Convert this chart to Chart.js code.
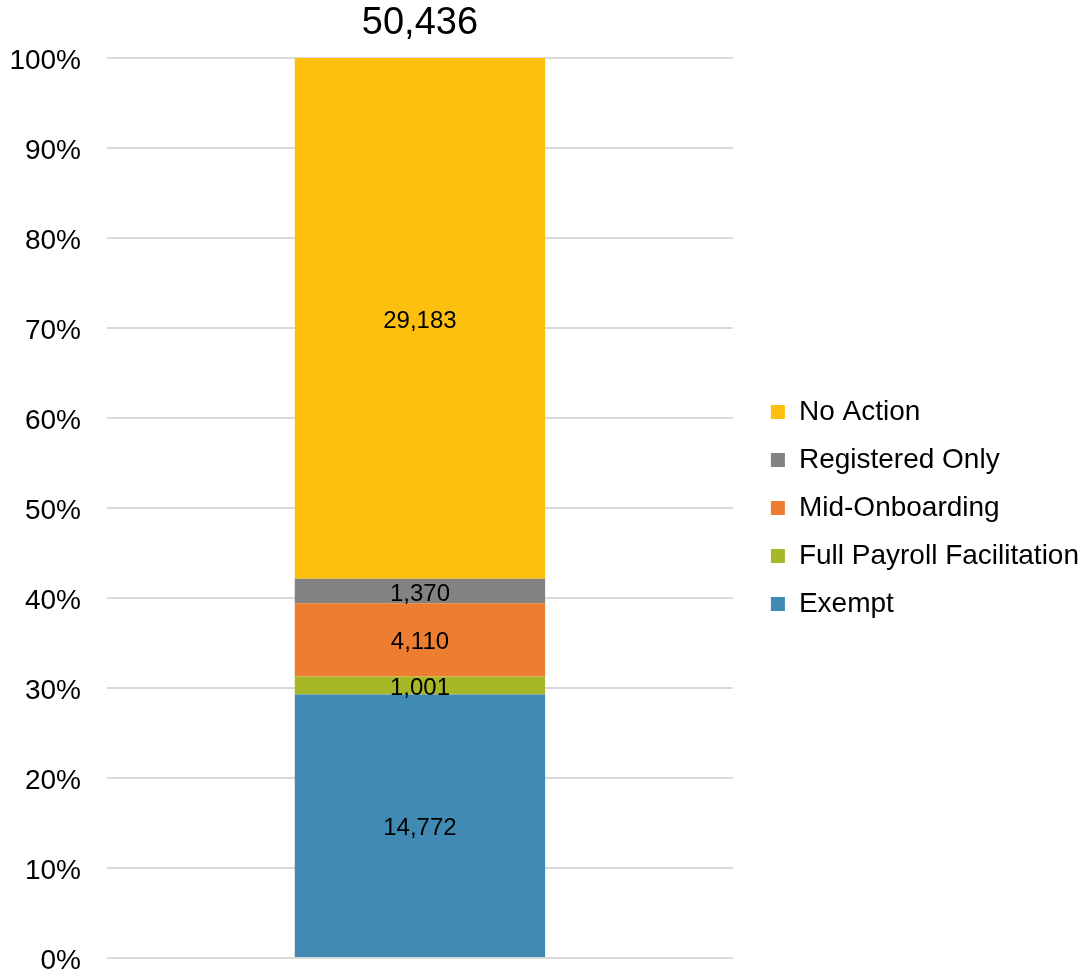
<!DOCTYPE html>
<html>
<head>
<meta charset="utf-8">
<title>50,436</title>
<script src="https://cdn.jsdelivr.net/npm/chart.js@4.4.1/dist/chart.umd.min.js"></script>
<style>
  html, body { margin: 0; padding: 0; background: #ffffff; }
  #contenedor { width: 1089px; height: 973px; }
</style>
</head>
<body>
<div id="contenedor"><canvas id="graficoEstado"></canvas></div>
<script>
// Categorías, de abajo hacia arriba en la barra
const categorias = ['Exempt', 'Full Payroll Facilitation', 'Mid-Onboarding', 'Registered Only', 'No Action'];
// Cantidad por categoría
const cantidades = [14772, 1001, 4110, 1370, 29183];
const colores = ['#418AB3', '#A6B727', '#ED7D31', '#838383', '#FEC00F'];
const etiquetaBarra = [''];

const total = cantidades.reduce((a, b) => a + b, 0);

// Plugin para escribir el número dentro de cada segmento
const etiquetasSegmentos = {
    id: 'etiquetasSegmentos',
    afterDatasetsDraw(chart) {
        const ctx = chart.ctx;
        ctx.save();
        ctx.font = '24px "Liberation Sans", Arial, sans-serif';
        ctx.fillStyle = '#000000';
        ctx.textAlign = 'center';
        ctx.textBaseline = 'middle';
        chart.data.datasets.forEach((ds, i) => {
            const barra = chart.getDatasetMeta(i).data[0];
            const y = (barra.y + barra.base) / 2 + 3;
            ctx.fillText(cantidades[i].toLocaleString('en-US'), barra.x, y);
        });
        ctx.restore();
    }
};

function crearGrafico() {
    Chart.defaults.font.family = '"Liberation Sans", Arial, sans-serif';
    Chart.defaults.color = '#000000';

    const ctx = document.getElementById('graficoEstado').getContext('2d');
    new Chart(ctx, {
        type: 'bar',
        data: {
            labels: etiquetaBarra,
            datasets: categorias.map((nombre, i) => ({
                label: nombre,
                data: [cantidades[i] / total * 100],
                backgroundColor: colores[i],
                borderWidth: 0,
                barPercentage: 0.4,
                categoryPercentage: 1
            }))
        },
        options: {
            responsive: true,
            maintainAspectRatio: false,
            animation: false,
            layout: {
                padding: { left: 9, right: 0, top: 0, bottom: 15 }
            },
            plugins: {
                tooltip: { enabled: false },
                title: {
                    display: true,
                    text: total.toLocaleString('en-US'),
                    fullSize: false,
                    font: { size: 38, weight: 'normal', lineHeight: 1 },
                    color: '#000000',
                    padding: { top: 5, bottom: 15 }
                },
                legend: {
                    position: 'right',
                    fullSize: false,
                    reverse: true,
                    maxWidth: 400,
                    labels: {
                        boxWidth: 14,
                        boxHeight: 14,
                        padding: 20,
                        font: { size: 28 },
                        color: '#000000'
                    }
                }
            },
            scales: {
                x: {
                    stacked: true,
                    display: false
                },
                y: {
                    stacked: true,
                    min: 0,
                    max: 100,
                    border: { display: false },
                    grid: { color: '#D9D9D9', lineWidth: 2, drawTicks: false },
                    ticks: {
                        stepSize: 10,
                        padding: 26,
                        labelOffset: 3,
                        font: { size: 28 },
                        color: '#000000',
                        callback: v => v + '%'
                    },
                    afterFit: escala => {
                        escala.width = 98;
                        escala.paddingTop = 0;
                        escala.paddingBottom = 0;
                    }
                },
                hueco: {
                    position: 'right',
                    display: true,
                    grid: { display: false },
                    border: { display: false },
                    ticks: { display: false },
                    afterFit: escala => { escala.width = 18; }
                }
            }
        },
        plugins: [etiquetasSegmentos]
    });
}

window.onload = crearGrafico;
</script>
</body>
</html>
